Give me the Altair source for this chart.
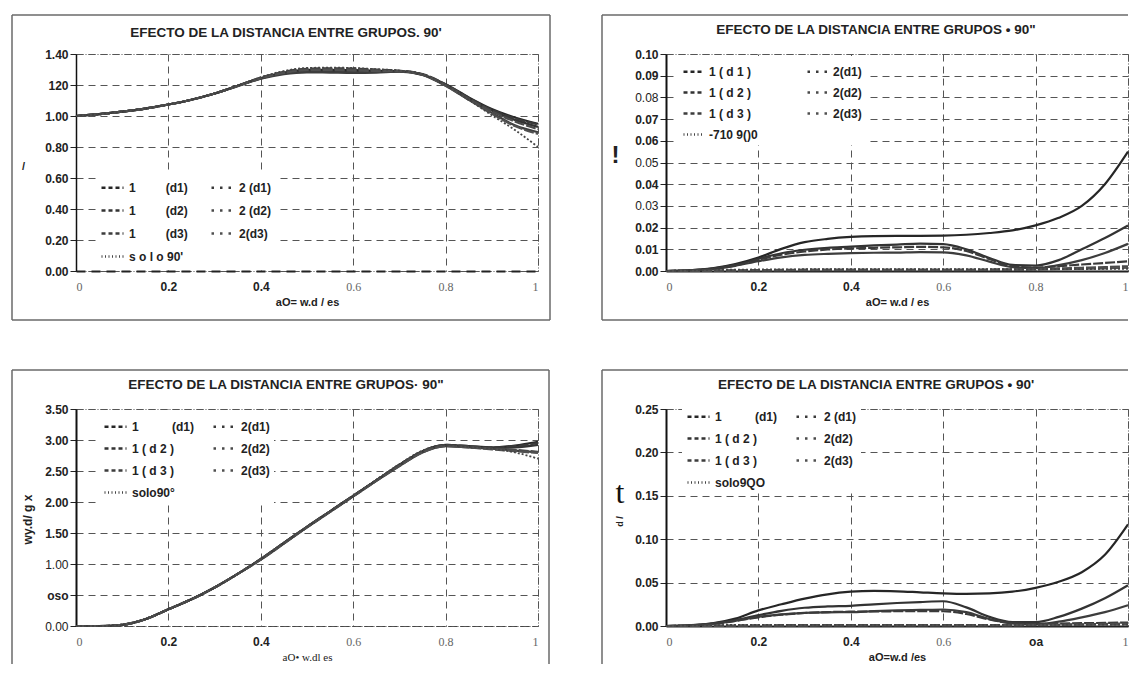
import altair as alt
import pandas as pd

# ---------------- data ----------------
X = [0.0, 0.05, 0.1, 0.15, 0.2, 0.25, 0.3, 0.35, 0.4, 0.45, 0.5,
     0.55, 0.6, 0.65, 0.7, 0.75, 0.8, 0.85, 0.9, 0.95, 1.0]
XT = [0, 0.2, 0.4, 0.6, 0.8, 1]

NB = "\u00a0"

# Panel 1 (top-left): ratio, 0 - 1.40
P1_LABELS = ["1" + NB * 9 + "(d1)", "2 (d1)", "1" + NB * 9 + "(d2)", "2 (d2)",
             "1" + NB * 9 + "(d3)", "2(d3)", "s o l o 90'"]
P1_1D1 = [1.000, 1.012, 1.028, 1.048, 1.074, 1.105, 1.145, 1.195, 1.245, 1.280, 1.297,
          1.298, 1.296, 1.292, 1.290, 1.268, 1.205, 1.120, 1.045, 0.990, 0.950]
P1_2D1 = [1.000, 1.012, 1.028, 1.048, 1.074, 1.105, 1.145, 1.195, 1.248, 1.285, 1.305,
          1.308, 1.306, 1.300, 1.292, 1.270, 1.205, 1.118, 1.040, 0.985, 0.945]
P1_1D2 = [1.000, 1.012, 1.028, 1.048, 1.074, 1.105, 1.145, 1.195, 1.242, 1.276, 1.290,
          1.288, 1.285, 1.285, 1.288, 1.266, 1.200, 1.115, 1.035, 0.975, 0.930]
P1_2D2 = [1.000, 1.012, 1.028, 1.048, 1.074, 1.105, 1.145, 1.195, 1.246, 1.282, 1.300,
          1.302, 1.300, 1.296, 1.291, 1.268, 1.200, 1.112, 1.030, 0.965, 0.915]
P1_1D3 = [1.000, 1.012, 1.028, 1.048, 1.074, 1.105, 1.145, 1.193, 1.240, 1.270, 1.282,
          1.280, 1.278, 1.280, 1.286, 1.265, 1.195, 1.105, 1.020, 0.940, 0.895]
P1_2D3 = [1.000, 1.012, 1.028, 1.048, 1.074, 1.105, 1.145, 1.194, 1.244, 1.278, 1.295,
          1.296, 1.293, 1.290, 1.289, 1.266, 1.196, 1.105, 1.015, 0.935, 0.885]
P1_SOLO = [1.000, 1.012, 1.028, 1.048, 1.074, 1.105, 1.145, 1.196, 1.250, 1.290, 1.310,
           1.312, 1.310, 1.302, 1.293, 1.270, 1.200, 1.105, 1.005, 0.910, 0.800]

# Panel 2 (top-right): 0 - 0.10
P2_LABELS = ["1 ( d 1 )", "2(d1)", "1 ( d 2 )", "2(d2)", "1 ( d 3 )", "2(d3)", "-710 9()0"]
P2_1D1 = [0.0, 0.0003, 0.0012, 0.0032, 0.0062, 0.0102, 0.0133, 0.0148, 0.0157, 0.0161, 0.0162,
          0.0162, 0.0163, 0.0167, 0.0175, 0.0187, 0.0210, 0.0245, 0.0300, 0.0400, 0.0550]
P2_2D1 = [0.0, 0.0003, 0.0010, 0.0026, 0.0052, 0.0075, 0.0090, 0.0099, 0.0104, 0.0107, 0.0109,
          0.0111, 0.0109, 0.0092, 0.0055, 0.0022, 0.0016, 0.0022, 0.0030, 0.0037, 0.0045]
P2_1D2 = [0.0, 0.0003, 0.0011, 0.0028, 0.0056, 0.0082, 0.0098, 0.0107, 0.0112, 0.0118, 0.0122,
          0.0126, 0.0124, 0.0100, 0.0060, 0.0028, 0.0025, 0.0050, 0.0100, 0.0152, 0.0210]
P2_2D2 = [0.0, 0.0001, 0.0002, 0.0003, 0.0004, 0.0005, 0.0006, 0.0006, 0.0006, 0.0006, 0.0006,
          0.0006, 0.0006, 0.0006, 0.0007, 0.0008, 0.0010, 0.0012, 0.0015, 0.0018, 0.0022]
P2_1D3 = [0.0, 0.0002, 0.0009, 0.0024, 0.0045, 0.0063, 0.0074, 0.0079, 0.0082, 0.0084, 0.0085,
          0.0087, 0.0086, 0.0072, 0.0043, 0.0018, 0.0013, 0.0027, 0.0050, 0.0083, 0.0125]
P2_2D3 = [0.0, 0.0001, 0.0001, 0.0002, 0.0003, 0.0003, 0.0004, 0.0004, 0.0004, 0.0004, 0.0004,
          0.0004, 0.0004, 0.0004, 0.0005, 0.0005, 0.0006, 0.0008, 0.0010, 0.0012, 0.0015]
P2_SOLO = [0.0, 0.0003, 0.0005, 0.0006, 0.0007, 0.0007, 0.0008, 0.0008, 0.0008, 0.0008, 0.0008,
           0.0008, 0.0008, 0.0008, 0.0008, 0.0008, 0.0008, 0.0009, 0.0009, 0.0010, 0.0010]

# Panel 3 (bottom-left): 0 - 3.50
P3_LABELS = ["1" + NB * 10 + "(d1)", "2(d1)", "1 ( d 2 )", "2(d2)", "1 ( d 3 )", "2(d3)", "solo90°"]
P3_1D1 = [0.0, 0.0, 0.02, 0.11, 0.27, 0.43, 0.62, 0.84, 1.08, 1.34, 1.60,
          1.85, 2.10, 2.35, 2.60, 2.82, 2.92, 2.90, 2.88, 2.91, 2.97]
P3_2D1 = [0.0, 0.0, 0.02, 0.11, 0.27, 0.43, 0.62, 0.84, 1.08, 1.34, 1.60,
          1.85, 2.10, 2.35, 2.60, 2.82, 2.92, 2.90, 2.88, 2.90, 2.95]
P3_1D2 = [0.0, 0.0, 0.02, 0.11, 0.27, 0.43, 0.62, 0.84, 1.08, 1.34, 1.60,
          1.85, 2.10, 2.35, 2.59, 2.81, 2.91, 2.89, 2.87, 2.88, 2.92]
P3_2D2 = [0.0, 0.0, 0.02, 0.11, 0.27, 0.43, 0.62, 0.84, 1.08, 1.34, 1.60,
          1.85, 2.10, 2.35, 2.59, 2.81, 2.91, 2.89, 2.86, 2.84, 2.81]
P3_1D3 = [0.0, 0.0, 0.02, 0.11, 0.27, 0.43, 0.62, 0.84, 1.07, 1.33, 1.59,
          1.84, 2.09, 2.34, 2.58, 2.80, 2.90, 2.88, 2.86, 2.83, 2.80]
P3_2D3 = [0.0, 0.0, 0.02, 0.11, 0.27, 0.43, 0.62, 0.84, 1.07, 1.33, 1.59,
          1.84, 2.09, 2.34, 2.58, 2.80, 2.90, 2.88, 2.85, 2.82, 2.79]
P3_SOLO = [0.0, 0.0, 0.02, 0.11, 0.27, 0.43, 0.62, 0.84, 1.08, 1.34, 1.60,
           1.85, 2.10, 2.36, 2.61, 2.83, 2.92, 2.89, 2.86, 2.80, 2.70]

# Panel 4 (bottom-right): 0 - 0.25
P4_LABELS = ["1" + NB * 10 + "(d1)", "2 (d1)", "1 ( d 2 )", "2(d2)", "1 ( d 3 )", "2(d3)", "solo9QO"]
P4_1D1 = [0.0, 0.0008, 0.0030, 0.0085, 0.0180, 0.0250, 0.0315, 0.0365, 0.0395, 0.0405, 0.0400,
          0.0388, 0.0376, 0.0370, 0.0375, 0.0395, 0.0440, 0.0510, 0.0620, 0.0820, 0.1170]
P4_2D1 = [0.0, 0.0006, 0.0024, 0.0058, 0.0100, 0.0130, 0.0150, 0.0160, 0.0165, 0.0168, 0.0170,
          0.0172, 0.0170, 0.0138, 0.0075, 0.0032, 0.0024, 0.0028, 0.0032, 0.0036, 0.0040]
P4_1D2 = [0.0, 0.0007, 0.0028, 0.0068, 0.0125, 0.0175, 0.0210, 0.0225, 0.0232, 0.0250, 0.0265,
          0.0276, 0.0285, 0.0215, 0.0105, 0.0045, 0.0045, 0.0105, 0.0200, 0.0320, 0.0470]
P4_2D2 = [0.0, 0.0002, 0.0004, 0.0006, 0.0008, 0.0009, 0.0010, 0.0010, 0.0010, 0.0010, 0.0010,
          0.0010, 0.0010, 0.0010, 0.0011, 0.0012, 0.0014, 0.0017, 0.0020, 0.0024, 0.0028]
P4_1D3 = [0.0, 0.0006, 0.0025, 0.0060, 0.0105, 0.0135, 0.0152, 0.0158, 0.0160, 0.0172, 0.0180,
          0.0185, 0.0190, 0.0160, 0.0080, 0.0030, 0.0022, 0.0050, 0.0100, 0.0160, 0.0240]
P4_2D3 = [0.0, 0.0001, 0.0002, 0.0003, 0.0004, 0.0005, 0.0005, 0.0006, 0.0006, 0.0006, 0.0006,
          0.0006, 0.0006, 0.0006, 0.0007, 0.0008, 0.0009, 0.0011, 0.0013, 0.0015, 0.0018]
P4_SOLO = [0.0, 0.0005, 0.0010, 0.0012, 0.0013, 0.0013, 0.0013, 0.0013, 0.0013, 0.0013, 0.0013,
           0.0013, 0.0013, 0.0013, 0.0013, 0.0013, 0.0014, 0.0014, 0.0015, 0.0015, 0.0016]

TITLES = ["EFECTO DE LA DISTANCIA ENTRE GRUPOS. 90'",
          "EFECTO DE LA DISTANCIA ENTRE GRUPOS \u2022 90\"",
          "EFECTO DE LA DISTANCIA ENTRE GRUPOS\u00b7 90\"",
          "EFECTO DE LA DISTANCIA ENTRE GRUPOS \u2022 90'"]

# ---------------- styling ----------------
W, H = 462, 217
SANS = "Liberation Sans"
SERIF = "Liberation Serif"
COLORS = ["#262626", "#3a3a3a", "#333333", "#4a4a4a", "#3d3d3d", "#505050", "#444444"]
DASHES = [[4, 3], [2.5, 6], [4, 3], [2.5, 6], [4, 3], [2.5, 6], [1, 2.5]]
GROUPS = ["1", "2", "1", "2", "1", "2", "s"]
ONE = pd.DataFrame({"k": [0]})


def long_df(labels, series):
    rows = []
    for lab, grp, vals in zip(labels, GROUPS, series):
        for x, y in zip(X, vals):
            rows.append({"x": x, "y": y, "s": lab, "g": grp})
    return pd.DataFrame(rows)


def frame(edges, top_ext, bot_ext, right_ext):
    L, R, T, B = -64, W + right_ext, -top_ext, H + bot_ext
    segs = {"top": (L, R, T, T), "bottom": (L, R, B, B),
            "left": (L, L, T, B), "right": (R, R, T, B)}
    out = []
    for e in edges:
        x1, x2, y1, y2 = segs[e]
        out.append(alt.Chart(ONE).mark_rule(color="#6a6a6a", strokeWidth=1.5).encode(
            x=alt.value(x1), x2=alt.value(x2), y=alt.value(y1), y2=alt.value(y2)))
    return out


def panel(labels, series, ymax, yvals, ytitle, ytx, yty, ytsize, ytangle, ytfont,
          normal_y, ylabel_expr, xtitle, xtfont, xtweight, sans_x, xlabel_expr,
          xdom, ydomw, title, title_y, leg, edges, bot_ext, right_ext, extras=()):
    df = long_df(labels, series)
    legend = alt.Legend(
        orient="none", legendX=leg["x"], legendY=leg["y"], columns=2, direction="horizontal",
        columnPadding=leg["cp"], rowPadding=leg["rp"], symbolType="stroke",
        symbolSize=leg["ss"], symbolStrokeWidth=2.5, labelFont=SANS, labelFontSize=12,
        labelFontWeight="bold", labelColor="#222", labelOffset=4, labelLimit=300,
        fillColor="white", padding=4, title=None)
    color = alt.Color("s:N", scale=alt.Scale(domain=labels, range=COLORS), legend=legend)
    dash = alt.StrokeDash("s:N", scale=alt.Scale(domain=labels, range=DASHES), legend=legend)
    ncond = " || ".join(f"datum.value=={v}" for v in normal_y) or "false"
    yax = dict(values=yvals, format=".2f", grid=True, gridDash=[7, 5], gridColor="#555",
               gridWidth=1, tickSize=6, tickColor="#222", labelPadding=2, labelFont=SANS,
               labelFontSize=12,
               labelFontWeight={"condition": {"test": ncond, "value": "normal"}, "value": "bold"},
               labelColor="#222", domainColor="#111", domainWidth=ydomw,
               title=ytitle, titleX=ytx, titleY=yty, titleAngle=ytangle, titleFontSize=ytsize,
               titleFont=ytfont, titleFontWeight="bold", titleAlign="center",
               titleBaseline="middle", titleColor="#222")
    if ylabel_expr:
        yax["labelExpr"] = ylabel_expr
    scond = " || ".join(f"datum.value=={v}" for v in sans_x)
    xax = dict(values=XT, format="~g", grid=True, gridDash=[7, 5], gridColor="#555", gridWidth=1,
               tickSize=0, labelPadding=10, labelFontSize=12,
               labelFont={"condition": {"test": scond, "value": SANS}, "value": SERIF},
               labelFontWeight={"condition": {"test": scond, "value": "bold"}, "value": "normal"},
               labelColor={"condition": {"test": scond, "value": "#222"}, "value": "#666"},
               title=xtitle, titleFont=xtfont, titleFontWeight=xtweight, titleFontSize=11,
               titlePadding=4, titleColor="#222", **xdom)
    if xlabel_expr:
        xax["labelExpr"] = xlabel_expr
    xenc = alt.X("x:Q", scale=alt.Scale(domain=[0, 1], nice=False), axis=alt.Axis(**xax))
    yenc = alt.Y("y:Q", scale=alt.Scale(domain=[0, ymax], nice=False), axis=alt.Axis(**yax))
    base = alt.Chart(df)
    l1 = base.transform_filter("datum.g=='1'").mark_line(
        strokeWidth=2.2, interpolate="monotone").encode(x=xenc, y=yenc, color=color)
    l2 = base.transform_filter("datum.g=='2'").mark_line(
        strokeWidth=2.2, interpolate="monotone", strokeDash=[10, 2]).encode(
        x=xenc, y=yenc, color=color)
    l3 = base.transform_filter("datum.g=='s'").mark_line(
        strokeWidth=1.8, interpolate="monotone", strokeDash=[2, 2]).encode(
        x=xenc, y=yenc, color=color)
    # legend carrier (draws nothing)
    lg = base.transform_filter("false").mark_line().encode(
        x=xenc, y=yenc, color=color, strokeDash=dash)
    ttl = alt.Chart(ONE).mark_text(text=title, font=SANS, fontSize=13.5, fontWeight="bold",
                                   color="#222", align="center", baseline="middle").encode(
        x=alt.value(W / 2 - 21), y=alt.value(title_y))
    layers = frame(edges, 39, bot_ext, right_ext) + [ttl, l1, l2, l3, lg] + list(extras)
    return alt.layer(*layers).properties(width=W, height=H)


DOM_SOLID = dict(domainColor="#222", domainWidth=2)

p1 = panel(P1_LABELS, [P1_1D1, P1_2D1, P1_1D2, P1_2D2, P1_1D3, P1_2D3, P1_SOLO],
           1.4, [0, 0.2, 0.4, 0.6, 0.8, 1.0, 1.2, 1.4], "/", -53, 112, 11, 0, SANS,
           [], "datum.value==1.2 ? '120' : datum.label",
           "aO= w.d / es", SANS, "bold", [0.2, 0.4], None,
           dict(domainColor="#222", domainWidth=2, domainDash=[9, 6]), 1.5,
           TITLES[0], -21, dict(x=20, y=117, cp=18, rp=4, ss=484),
           ["top", "left", "right", "bottom"], 49, 12)

p2 = panel(P2_LABELS, [P2_1D1, P2_2D1, P2_1D2, P2_2D2, P2_1D3, P2_2D3, P2_SOLO],
           0.1, [0, 0.01, 0.02, 0.03, 0.04, 0.05, 0.06, 0.07, 0.08, 0.09, 0.1], "!",
           -51, 101, 24, 0, SANS,
           [0.03, 0.05, 0.08], None,
           "aO= w.d / es", SANS, "bold", [0.2, 0.4], None,
           DOM_SOLID, 2,
           TITLES[1], -24, dict(x=12, y=2, cp=44, rp=3, ss=400),
           ["top", "left", "bottom"], 49, 0)

p3 = panel(P3_LABELS, [P3_1D1, P3_2D1, P3_1D2, P3_2D2, P3_1D3, P3_2D3, P3_SOLO],
           3.5, [0, 0.5, 1.0, 1.5, 2.0, 2.5, 3.0, 3.5], "wy.d/ g x", -49, 110, 12, 270, SANS,
           [0, 1.0], "datum.value==0.5 ? 'oso' : datum.label",
           "aO\u2022 w.dl es", SERIF, "normal", [0.2, 0.4], None,
           dict(domainColor="#444", domainWidth=1, domainDash=[3, 3]), 2,
           TITLES[2], -24, dict(x=23, y=1, cp=13, rp=3, ss=484),
           ["top", "left", "right"], 38, 11)

t_mark = alt.Chart(ONE).mark_text(text="t", font=SERIF, fontSize=32, color="#111").encode(
    x=alt.value(-46), y=alt.value(84))

p4 = panel(P4_LABELS, [P4_1D1, P4_2D1, P4_1D2, P4_2D2, P4_1D3, P4_2D3, P4_SOLO],
           0.25, [0, 0.05, 0.1, 0.15, 0.2, 0.25], "d /", -47, 112, 9, 270, SANS,
           [], None,
           "aO=w.d /es", SANS, "bold", [0.2, 0.4, 0.8], "datum.value==0.8 ? 'oa' : datum.label",
           DOM_SOLID, 2,
           TITLES[3], -24, dict(x=16, y=-9, cp=13, rp=3, ss=484),
           ["top", "left"], 38, 0, extras=[t_mark])

chart = alt.concat(p1, p2, p3, p4, columns=2, spacing={"row": 46, "column": 48}, align="each").resolve_scale(
    color="independent", strokeDash="independent").properties(
    padding={"left": 2, "top": 5, "right": 0, "bottom": 0},
    background="white").configure_view(stroke="#555", strokeDash=[1, 2], strokeWidth=1)

chart.save("out.html", embed_options={"renderer": "svg", "actions": False})
